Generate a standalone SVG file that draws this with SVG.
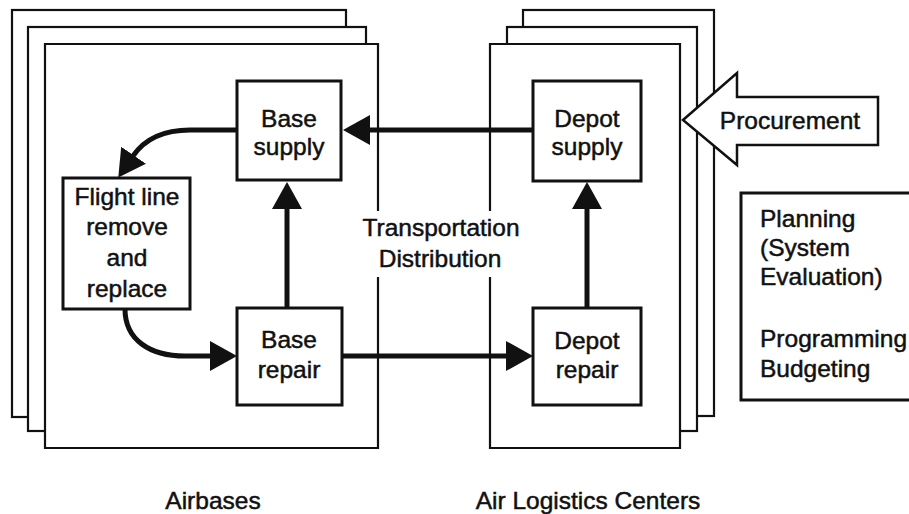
<svg xmlns="http://www.w3.org/2000/svg" width="909" height="514" viewBox="0 0 909 514">
<style>
text{font-family:"Liberation Sans",Arial,sans-serif;font-size:24.5px;fill:#111;stroke:#111;stroke-width:0.5;}
.c{text-anchor:middle;}
.sheet{fill:#fff;stroke:#111;stroke-width:2.2;}
.edge{fill:none;stroke:#111;stroke-width:2.2;}
.box{fill:#fff;stroke:#111;stroke-width:3;}
.conn{fill:none;stroke:#111;stroke-width:5;}
</style>
<defs>
<marker id="ah" markerUnits="userSpaceOnUse" markerWidth="28" markerHeight="32" refX="1" refY="15" orient="auto" viewBox="0 0 28 32">
<path d="M0,0 L27,15 L0,30 z" fill="#111"/>
</marker>
</defs>
<rect width="909" height="514" fill="#fff"/>
<g id="airbases">
<rect class="sheet" x="12" y="10" width="334" height="407"/>
<rect class="sheet" x="28" y="27" width="338" height="404"/>
<rect x="45" y="44" width="333" height="404" fill="#fff"/>
<path class="edge" d="M378,211 V44 H45 V448 H378 V277"/>
<text class="c" x="213" y="509">Airbases</text>
</g>
<g id="alc">
<rect class="sheet" x="523" y="10" width="191" height="406"/>
<rect class="sheet" x="507" y="27" width="190" height="404"/>
<rect x="490" y="44" width="190" height="404" fill="#fff"/>
<path class="edge" d="M490,211 V44 H680 V448 H490 V277"/>
<text class="c" x="588" y="509">Air Logistics Centers</text>
</g>
<g id="transport">
<text class="c" x="441" y="236">Transportation</text>
<text class="c" x="440" y="267">Distribution</text>
</g>
<g id="base-supply">
<rect class="box" x="237" y="81" width="104" height="99"/>
<text class="c" x="289" y="127">Base</text>
<text class="c" x="289" y="155">supply</text>
</g>
<g id="flight-line">
<rect class="box" x="63" y="178" width="127" height="131"/>
<text class="c" x="127" y="205">Flight line</text>
<text class="c" x="127" y="235">remove</text>
<text class="c" x="127" y="266">and</text>
<text class="c" x="127" y="297">replace</text>
</g>
<g id="base-repair">
<rect class="box" x="237" y="308" width="105" height="97"/>
<text class="c" x="289" y="348">Base</text>
<text class="c" x="289" y="378">repair</text>
</g>
<g id="depot-supply">
<rect class="box" x="533" y="81" width="108" height="100"/>
<text class="c" x="587" y="127">Depot</text>
<text class="c" x="587" y="155">supply</text>
</g>
<g id="depot-repair">
<rect class="box" x="533" y="308" width="108" height="97"/>
<text class="c" x="587" y="349">Depot</text>
<text class="c" x="587" y="378">repair</text>
</g>
<g id="procurement">
<polygon points="683,120 737,73 737,97 878,97 878,145 737,145 737,165" fill="#fff" stroke="#111" stroke-width="2.5" stroke-linejoin="miter"/>
<text class="c" x="790" y="129">Procurement</text>
</g>
<g id="planning">
<rect class="box" x="741" y="193" width="200" height="207"/>
<text x="760" y="227">Planning</text>
<text x="760" y="256">(System</text>
<text x="760" y="285">Evaluation)</text>
<text x="760" y="347">Programming</text>
<text x="760" y="377">Budgeting</text>
</g>
<g id="connectors">
<path class="conn" d="M533,130 L369,130" marker-end="url(#ah)"/>
<path class="conn" d="M237,130 L190,130 C162,130 144,140 133,156" marker-end="url(#ah)"/>
<path class="conn" d="M287,308 L287,208" marker-end="url(#ah)"/>
<path class="conn" d="M587,308 L587,208" marker-end="url(#ah)"/>
<path class="conn" d="M125,309 C125,340 150,356 185,356 L211,356" marker-end="url(#ah)"/>
<path class="conn" d="M342,356 L507,356" marker-end="url(#ah)"/>
</g>
</svg>
